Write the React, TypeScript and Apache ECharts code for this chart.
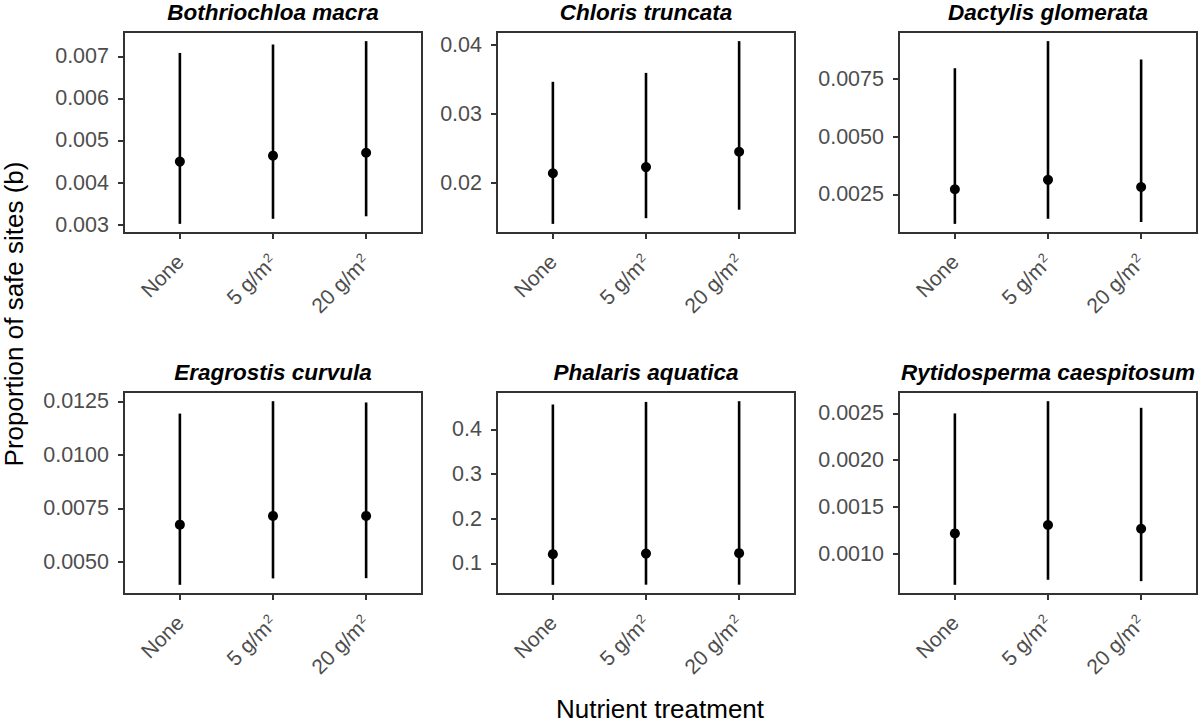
import React, { useEffect, useRef } from "react";
import * as echarts from "echarts";

const categories = ["None", "5 g/m²", "20 g/m²"];
const categoryX = [1, 2, 3];

const species = [
  "Bothriochloa macra",
  "Chloris truncata",
  "Dactylis glomerata",
  "Eragrostis curvula",
  "Phalaris aquatica",
  "Rytidosperma caespitosum",
];

const bothriochloaMean = [0.0045, 0.00464, 0.00471];
const bothriochloaLower = [0.00302, 0.00314, 0.0032];
const bothriochloaUpper = [0.00708, 0.00728, 0.00736];

const chlorisMean = [0.02142, 0.02232, 0.02453];
const chlorisLower = [0.01411, 0.01493, 0.01616];
const chlorisUpper = [0.03464, 0.03593, 0.04052];

const dactylisMean = [0.00272, 0.00313, 0.00282];
const dactylisLower = [0.00122, 0.00144, 0.0013];
const dactylisUpper = [0.00797, 0.009145, 0.00835];

const eragrostisMean = [0.00674, 0.00715, 0.00715];
const eragrostisLower = [0.00393, 0.00423, 0.00424];
const eragrostisUpper = [0.01193, 0.01251, 0.01245];

const phalarisMean = [0.1204, 0.1217, 0.1226];
const phalarisLower = [0.0517, 0.052, 0.052];
const phalarisUpper = [0.4559, 0.4617, 0.4633];

const rytidospermaMean = [0.001216, 0.001306, 0.001266];
const rytidospermaLower = [0.000666, 0.00072, 0.000705];
const rytidospermaUpper = [0.0025, 0.002631, 0.00256];

const bothriochloaTicks = [0.003, 0.004, 0.005, 0.006, 0.007];
const chlorisTicks = [0.02, 0.03, 0.04];
const dactylisTicks = [0.0025, 0.005, 0.0075];
const eragrostisTicks = [0.005, 0.0075, 0.01, 0.0125];
const phalarisTicks = [0.1, 0.2, 0.3, 0.4];
const rytidospermaTicks = [0.001, 0.0015, 0.002, 0.0025];

const tickDecimals = [3, 2, 4, 4, 1, 4];

const yTitle = "Proportion of safe sites (b)";
const xTitle = "Nutrient treatment";

const FONT = "'Liberation Sans', Arial, Helvetica, sans-serif";

export default function App() {
  const ref = useRef<HTMLDivElement>(null);

  useEffect(() => {
    if (!ref.current) return;
    const chart = echarts.init(ref.current, undefined, { renderer: "svg" });

    const panels = [
      { mean: bothriochloaMean, lower: bothriochloaLower, upper: bothriochloaUpper, ticks: bothriochloaTicks },
      { mean: chlorisMean, lower: chlorisLower, upper: chlorisUpper, ticks: chlorisTicks },
      { mean: dactylisMean, lower: dactylisLower, upper: dactylisUpper, ticks: dactylisTicks },
      { mean: eragrostisMean, lower: eragrostisLower, upper: eragrostisUpper, ticks: eragrostisTicks },
      { mean: phalarisMean, lower: phalarisLower, upper: phalarisUpper, ticks: phalarisTicks },
      { mean: rytidospermaMean, lower: rytidospermaLower, upper: rytidospermaUpper, ticks: rytidospermaTicks },
    ];

    const lefts = [124, 497, 899];
    const tops = [32, 392];
    const W = 298;
    const heights = [201, 202];

    const grids: any[] = [];
    const xAxes: any[] = [];
    const yAxes: any[] = [];
    const series: any[] = [];
    const graphics: any[] = [];

    panels.forEach((p, i) => {
      const col = i % 3;
      const row = Math.floor(i / 3);
      grids.push({
        left: lefts[col],
        top: tops[row],
        width: W,
        height: heights[row],
        show: true,
        borderColor: "#333333",
        borderWidth: 2,
        backgroundColor: "transparent",
        containLabel: false,
      });
      const lo = Math.min(...p.lower);
      const hi = Math.max(...p.upper);
      const span = hi - lo;
      xAxes.push({
        type: "value",
        gridIndex: i,
        min: 0.4,
        max: 3.6,
        axisLine: { show: false },
        splitLine: { show: false },
        axisTick: {
          show: true,
          length: 6,
          customValues: categoryX,
          lineStyle: { color: "#333333", width: 2 },
        },
        axisLabel: {
          show: true,
          customValues: categoryX,
          rotate: 45,
          margin: 25,
          fontSize: 21,
          fontFamily: FONT,
          color: "#4D4D4D",
          formatter: (v: number) => {
            const s = categories[Math.round(v) - 1] || "";
            return s.replace("²", "{sup|2}");
          },
          rich: {
            sup: {
              fontSize: 13,
              fontFamily: FONT,
              color: "#4D4D4D",
              verticalAlign: "top",
              lineHeight: 13,
              padding: [0, 0, 12, 1],
            },
          },
        },
      });
      const dec = tickDecimals[i];
      yAxes.push({
        type: "value",
        gridIndex: i,
        min: lo - 0.05 * span,
        max: hi + 0.05 * span,
        axisLine: { show: false },
        splitLine: { show: false },
        axisTick: {
          show: true,
          length: 6,
          customValues: p.ticks,
          lineStyle: { color: "#333333", width: 2 },
        },
        axisLabel: {
          show: true,
          customValues: p.ticks,
          margin: 15,
          fontSize: 21.5,
          fontFamily: FONT,
          color: "#4D4D4D",
          formatter: (v: number) => v.toFixed(dec),
        },
      });
      series.push({
        type: "custom",
        xAxisIndex: i,
        yAxisIndex: i,
        data: categoryX.map((x, k) => [x, p.lower[k], p.upper[k]]),
        encode: { x: 0, y: [1, 2] },
        renderItem: (params: any, api: any) => {
          const x = api.value(0);
          const a = api.coord([x, api.value(1)]);
          const b = api.coord([x, api.value(2)]);
          return {
            type: "line",
            shape: { x1: a[0], y1: a[1], x2: b[0], y2: b[1] },
            style: { stroke: "#000000", lineWidth: 2.6 },
          };
        },
        silent: true,
        z: 2,
      });
      series.push({
        type: "scatter",
        xAxisIndex: i,
        yAxisIndex: i,
        data: categoryX.map((x, k) => [x, p.mean[k]]),
        symbol: "circle",
        symbolSize: 10,
        itemStyle: { color: "#000000", opacity: 1 },
        silent: true,
        z: 3,
      });
      graphics.push({
        type: "text",
        x: lefts[col] + W / 2,
        y: row === 0 ? 12 : 372,
        style: {
          text: species[i],
          fontSize: 22.5,
          fontWeight: "bold",
          fontStyle: "italic",
          fontFamily: FONT,
          fill: "#000000",
          align: "center",
          verticalAlign: "middle",
          textAlign: "center",
          textVerticalAlign: "middle",
        },
      });
    });

    graphics.push({
      type: "text",
      x: 14,
      y: 314,
      rotation: Math.PI / 2,
      style: {
        text: yTitle,
        fontSize: 26,
        fontFamily: FONT,
        fill: "#000000",
        align: "center",
        verticalAlign: "middle",
        textAlign: "center",
        textVerticalAlign: "middle",
      },
    });
    graphics.push({
      type: "text",
      x: 660,
      y: 709,
      style: {
        text: xTitle,
        fontSize: 26,
        fontFamily: FONT,
        fill: "#000000",
        align: "center",
        verticalAlign: "middle",
        textAlign: "center",
        textVerticalAlign: "middle",
      },
    });

    chart.setOption({
      animation: false,
      backgroundColor: "#ffffff",
      grid: grids,
      xAxis: xAxes,
      yAxis: yAxes,
      series,
      graphic: graphics,
    });

    return () => {
      chart.dispose();
    };
  }, []);

  return (
    <div
      ref={ref}
      style={{ position: "fixed", left: 0, top: 0, width: 1200, height: 724 }}
    />
  );
}
